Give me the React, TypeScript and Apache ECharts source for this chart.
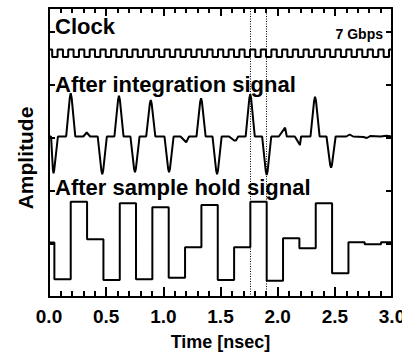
import React, { useEffect, useRef } from "react";
import * as echarts from "echarts";

// Time axis (nsec) tick labels
const xTickLabels = ["0.0", "0.5", "1.0", "1.5", "2.0", "2.5", "3.0"];

// Clock: alternating edge times (first edge is falling), levels high/low
const clockEdges = [
  0.028, 0.075, 0.122, 0.168, 0.215, 0.262, 0.309, 0.356, 0.402, 0.449,
  0.496, 0.543, 0.589, 0.636, 0.683, 0.730, 0.776, 0.823, 0.870, 0.917,
  0.963, 1.010, 1.057, 1.104, 1.150, 1.197, 1.244, 1.291, 1.337, 1.384,
  1.431, 1.478, 1.524, 1.571, 1.618, 1.665, 1.711, 1.758, 1.805, 1.852,
  1.898, 1.945, 1.992, 2.039, 2.085, 2.132, 2.179, 2.226, 2.272, 2.319,
  2.366, 2.413, 2.459, 2.506, 2.553, 2.600, 2.646, 2.693, 2.740, 2.787,
  2.833, 2.880, 2.927, 2.974,
];
const clockHigh = 247.5;
const clockLow = 240;

// After integration signal: time (nsec) and amplitude
const integTime = [
  0, 0.018, 0.034, 0.040, 0.046, 0.078,
  0.150, 0.182, 0.190, 0.198, 0.230,
  0.300, 0.330, 0.360,
  0.426, 0.458, 0.466, 0.474, 0.506,
  0.572, 0.604, 0.612, 0.620, 0.652,
  0.712, 0.744, 0.752, 0.760, 0.792,
  0.850, 0.882, 0.890, 0.898, 0.930,
  1.010, 1.042, 1.050, 1.058, 1.090,
  1.150, 1.200, 1.225,
  1.290, 1.322, 1.330, 1.338, 1.370,
  1.430, 1.462, 1.470, 1.478, 1.510,
  1.575, 1.620, 1.635, 1.655,
  1.720, 1.752, 1.760, 1.768, 1.800,
  1.864, 1.896, 1.904, 1.912, 1.944,
  2.010, 2.065, 2.080,
  2.150, 2.195, 2.205,
  2.287, 2.319, 2.327, 2.335, 2.367,
  2.427, 2.459, 2.467, 2.475, 2.507,
  2.600, 2.630, 2.660, 2.750, 2.780, 2.810, 2.900, 2.950, 3.0,
];
const integAmp = [
  160.5, 160.5, 127.4, 123.7, 127.4, 160.5,
  160.5, 199.4, 203.7, 199.4, 160.5,
  160.5, 164.5, 160.5,
  160.5, 126.5, 122.7, 126.5, 160.5,
  160.5, 197.2, 201.3, 197.2, 160.5,
  160.5, 128.3, 124.7, 128.3, 160.5,
  160.5, 193.4, 197, 193.4, 160.5,
  160.5, 128.3, 124.7, 128.3, 160.5,
  160.5, 154.7, 160.5,
  160.5, 194.9, 198.7, 194.9, 160.5,
  160.5, 126.5, 122.7, 126.5, 160.5,
  160.5, 156.5, 156.5, 160.5,
  160.5, 198.5, 202.7, 198.5, 160.5,
  160.5, 125.8, 122, 125.8, 160.5,
  160.5, 169.3, 160.5,
  160.5, 152, 160.5,
  160.5, 196.3, 200.3, 196.3, 160.5,
  160.5, 132.4, 129.3, 132.4, 160.5,
  160.5, 162.5, 160.5, 160, 159, 161, 160.5, 161.2, 160.5,
];

// After sample hold signal: segment start times and held levels
const shTime = [
  0, 0.047, 0.19, 0.333, 0.476, 0.619, 0.761, 0.904, 1.047, 1.19, 1.333,
  1.476, 1.619, 1.761, 1.904, 2.047, 2.19, 2.333, 2.476, 2.619, 2.761, 2.904, 3.0,
];
const shLevel = [
  54.5, 17.7, 95.3, 57.7, 17, 93.7, 17.7, 89.7, 19.3, 49.7, 92,
  17, 49.7, 95.3, 16.3, 58.7, 48.7, 93.7, 23.7, 54.7, 52.7, 54.7, 54.7,
];

// Dotted marker lines (nsec)
const markerTimes = [1.758, 1.898];

const FONT = "Liberation Sans, Arial, Helvetica, sans-serif";

export default function App() {
  const ref = useRef<HTMLDivElement>(null);
  useEffect(() => {
    if (!ref.current) return;
    const chart = echarts.init(ref.current, null, { renderer: "svg" });

    const clockData: number[][] = [[0, clockHigh]];
    clockEdges.forEach((t, i) => {
      clockData.push([t, i % 2 === 0 ? clockLow : clockHigh]);
    });
    clockData.push([3, clockEdges.length % 2 === 0 ? clockHigh : clockLow]);

    const integData = integTime.map((t, i) => [t, integAmp[i]]);
    const shData = shTime.map((t, i) => [t, shLevel[i]]);

    const lineStyle = { color: "#000", width: 2 };
    const axisLine = { show: true, onZero: false, lineStyle: { color: "#000", width: 2 } };

    chart.setOption({
      animation: false,
      backgroundColor: "#fff",
      grid: { left: 49, right: 10, top: 8, bottom: 61, containLabel: false, outerBoundsMode: "none" },
      xAxis: [
        {
          type: "value",
          position: "bottom",
          min: 0,
          max: 3,
          interval: 0.5,
          axisLine,
          axisTick: { show: true, inside: true, length: 10, lineStyle: { color: "#000", width: 2 } },
          minorTick: { show: true, splitNumber: 5, length: 6, lineStyle: { color: "#000", width: 2 } },
          splitLine: { show: false },
          axisLabel: {
            show: true,
            margin: 10,
            color: "#000",
            fontFamily: FONT,
            fontWeight: "bold",
            fontSize: 19,
            formatter: (v: number) => xTickLabels[Math.round(v / 0.5)] ?? "",
          },
          name: "Time [nsec]",
          nameLocation: "middle",
          nameGap: 36,
          nameTextStyle: { color: "#000", fontFamily: FONT, fontWeight: "bold", fontSize: 18 },
        },
        {
          type: "value",
          position: "top",
          min: 0,
          max: 3,
          interval: 0.5,
          axisLine,
          axisTick: { show: true, inside: true, length: 8, lineStyle: { color: "#000", width: 2 } },
          minorTick: { show: true, splitNumber: 5, length: 5, lineStyle: { color: "#000", width: 2 } },
          splitLine: { show: false },
          axisLabel: { show: false },
        },
      ],
      yAxis: [
        {
          type: "value",
          position: "left",
          min: 0,
          max: 289,
          interval: 53,
          axisLine,
          axisTick: { show: true, inside: true, length: 6, lineStyle: { color: "#000", width: 2 } },
          splitLine: { show: false },
          axisLabel: { show: false },
        },
        {
          type: "value",
          position: "right",
          min: 0,
          max: 289,
          interval: 53,
          axisLine,
          axisTick: { show: true, inside: true, length: 6, lineStyle: { color: "#000", width: 2 } },
          splitLine: { show: false },
          axisLabel: { show: false },
        },
      ],
      series: [
        {
          name: "Clock",
          type: "line",
          step: "end",
          data: clockData,
          showSymbol: false,
          symbol: "none",
          lineStyle,
          z: 3,
        },
        {
          name: "After integration signal",
          type: "line",
          data: integData,
          showSymbol: false,
          symbol: "none",
          lineStyle,
          z: 3,
        },
        {
          name: "After sample hold signal",
          type: "line",
          step: "end",
          data: shData,
          showSymbol: false,
          symbol: "none",
          lineStyle,
          z: 3,
          markLine: {
            silent: true,
            symbol: "none",
            label: { show: false },
            lineStyle: { color: "#000", width: 1, type: [1, 1.5] },
            data: markerTimes.map((t) => ({ xAxis: t })),
            z: 2,
          },
        },
      ],
      graphic: [
        {
          type: "text",
          x: 25,
          y: 158,
          rotation: Math.PI / 2,
          z: 10,
          style: { text: "Amplitude", font: `bold 21px ${FONT}`, fill: "#000", align: "center", verticalAlign: "middle" },
        },
        {
          type: "text",
          x: 55,
          y: 26.5,
          z: 10,
          style: { text: "Clock", font: `bold 22px ${FONT}`, fill: "#000", align: "left", verticalAlign: "middle" },
        },
        {
          type: "text",
          x: 383,
          y: 34,
          z: 10,
          style: { text: "7 Gbps", font: `bold 14px ${FONT}`, fill: "#000", align: "right", verticalAlign: "middle" },
        },
        {
          type: "text",
          x: 55,
          y: 84.5,
          z: 10,
          style: { text: "After integration signal", font: `bold 22px ${FONT}`, fill: "#000", align: "left", verticalAlign: "middle" },
        },
        {
          type: "text",
          x: 55,
          y: 187.5,
          z: 10,
          style: { text: "After sample hold signal", font: `bold 22px ${FONT}`, fill: "#000", align: "left", verticalAlign: "middle" },
        },
      ],
    });
    return () => chart.dispose();
  }, []);
  return (
    <div
      ref={ref}
      style={{ position: "fixed", left: 0, top: 0, width: 402, height: 358, background: "#fff" }}
    />
  );
}
